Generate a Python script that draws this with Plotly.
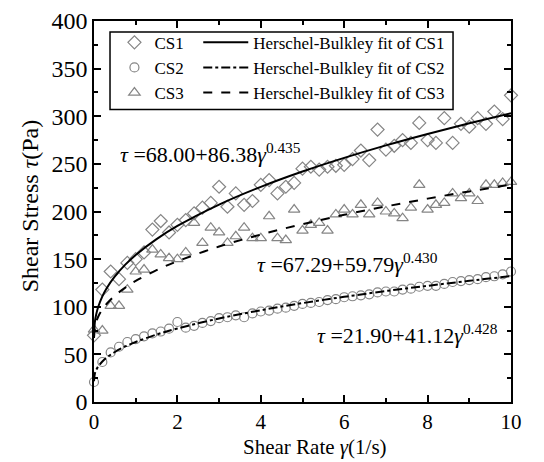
import plotly.graph_objects as go

# ---- data ----
shear_rate = [0.0, 0.2, 0.4, 0.6, 0.8, 1.0, 1.2, 1.4, 1.6, 1.8,
              2.0, 2.2, 2.4, 2.6, 2.8, 3.0, 3.2, 3.4, 3.6, 3.8,
              4.0, 4.2, 4.4, 4.6, 4.8, 5.0, 5.2, 5.4, 5.6, 5.8,
              6.0, 6.2, 6.4, 6.6, 6.8, 7.0, 7.2, 7.4, 7.6, 7.8,
              8.0, 8.2, 8.4, 8.6, 8.8, 9.0, 9.2, 9.4, 9.6, 9.8, 10.0]

cs1 = [70, 118, 137, 129, 146, 150, 157, 181, 190, 178,
       186, 191, 198, 204, 209, 226, 205, 219, 207, 211,
       228, 233, 219, 226, 230, 245, 247, 244, 247, 248,
       249, 255, 264, 254, 286, 265, 269, 275, 272, 293,
       275, 272, 298, 272, 292, 289, 298, 292, 305, 297, 322]

cs2 = [21, 42, 52, 58, 63, 66, 69, 72, 74, 77,
       84, 78, 80, 83, 85, 88, 89, 91, 89, 93,
       95, 96, 98, 99, 101, 103, 104, 105, 107, 108,
       110, 111, 112, 113, 115, 116, 116, 118, 119, 121,
       122, 122, 124, 126, 127, 128, 129, 131, 132, 134, 137]

cs3 = [76, 75, 101, 101, 118, 137, 139, 160, 155, 151,
       150, 157, 188, 167, 183, 178, 167, 174, 183, 172,
       172, 195, 172, 170, 202, 180, 186, 188, 180, 197,
       202, 197, 207, 197, 209, 200, 198, 193, 204, 228,
       202, 207, 209, 219, 214, 219, 211, 228, 228, 230, 231]

# Herschel-Bulkley fit curves
fit_rate = [0, 0.02, 0.05, 0.1, 0.2, 0.3, 0.5, 0.75, 1, 1.5, 2, 3, 4, 5, 6, 7, 8, 9, 10]
fit_cs1 = [68.0, 83.7, 91.5, 99.7, 110.9, 119.2, 131.9, 144.2, 154.4, 171.0,
           184.8, 207.3, 225.9, 242.0, 256.3, 269.4, 281.4, 292.6, 303.2]
fit_cs2 = [21.9, 29.6, 33.3, 37.2, 42.5, 46.5, 52.5, 58.3, 63.0, 70.8,
           77.2, 87.7, 96.3, 103.8, 110.4, 116.5, 122.0, 127.2, 132.1]
fit_cs3 = [67.3, 78.4, 83.8, 89.5, 97.2, 102.9, 111.7, 120.1, 127.1, 138.5,
           147.8, 163.2, 175.8, 186.7, 196.5, 205.3, 213.5, 221.1, 228.2]

series_names = ["CS1", "CS2", "CS3"]
fit_names = ["Herschel-Bulkley fit of CS1", "Herschel-Bulkley fit of CS2",
             "Herschel-Bulkley fit of CS3"]
eq_texts = ["<i>τ</i> =68.00+86.38<i>γ</i><sup>0.435</sup>",
            "<i>τ</i> =67.29+59.79<i>γ</i><sup>0.430</sup>",
            "<i>τ</i> =21.90+41.12<i>γ</i><sup>0.428</sup>"]
x_title = "Shear Rate <i>γ</i>(1/s)"
y_title = "Shear Stress <i>τ</i>(Pa)"

FONT = "Liberation Serif, Times New Roman, serif"
GRAY = "#858585"

fig = go.Figure()

symbols = ["diamond-open", "circle-open", "triangle-up-open"]
sizes = [10, 9, 10]
for name, ys, sym, sz in zip(series_names, [cs1, cs2, cs3], symbols, sizes):
    fig.add_trace(go.Scatter(
        x=shear_rate, y=ys, mode="markers", name=name,
        marker=dict(symbol=sym, size=sz, color=GRAY, line=dict(width=1.2, color=GRAY)),
        cliponaxis=False, legend="legend"))

dashes = ["solid", "dashdot", "dash"]
for name, ys, d in zip(fit_names, [fit_cs1, fit_cs2, fit_cs3], dashes):
    fig.add_trace(go.Scatter(
        x=fit_rate, y=ys, mode="lines", name=name, line_shape="spline",
        line=dict(color="black", width=2, dash=d), legend="legend2"))

# legend frame
fig.add_shape(type="rect", xref="paper", yref="paper",
              x0=0.0384, x1=0.861, y0=0.7676, y1=0.9713,
              line=dict(color="black", width=1.5), fillcolor="white", layer="below")

eq_pos = [(0.58, 261), (3.86, 146), (5.3, 71)]
for (ex, ey), t in zip(eq_pos, eq_texts):
    fig.add_annotation(x=ex, y=ey, xref="x", yref="y", text=t, showarrow=False,
                       xanchor="left", yanchor="middle",
                       font=dict(family=FONT, size=22, color="black"))

# axis titles
fig.add_annotation(x=0.53, y=-0.118, xref="paper", yref="paper", text=x_title,
                   showarrow=False, xanchor="center", yanchor="middle",
                   font=dict(family=FONT, size=21, color="black"))
fig.add_annotation(x=-0.153, y=0.514, xref="paper", yref="paper", text=y_title,
                   showarrow=False, xanchor="center", yanchor="middle", textangle=-90,
                   font=dict(family=FONT, size=24, color="black"))

axis_common = dict(showline=True, linecolor="black", linewidth=1.5, mirror="ticks",
                   ticks="inside", ticklen=7, tickwidth=1.5, tickcolor="black",
                   showgrid=False, zeroline=False, automargin=False)

fig.update_xaxes(range=[0, 10], dtick=2, tick0=0,
                 tickfont=dict(family=FONT, size=21, color="black"),
                 minor=dict(ticks="inside", ticklen=4, dtick=1, tickcolor="black", tickwidth=1.5),
                 **axis_common)
fig.update_yaxes(range=[0, 400], dtick=50, tick0=0,
                 tickfont=dict(family=FONT, size=24, color="black"),
                 minor=dict(ticks="inside", ticklen=4, dtick=25, tickcolor="black", tickwidth=1.5),
                 **axis_common)

fig.update_layout(
    width=544, height=462,
    margin=dict(l=86, r=41, t=13, b=68, autoexpand=False),
    paper_bgcolor="white", plot_bgcolor="white",
    font=dict(family=FONT, color="black"),
    showlegend=True,
    legend=dict(x=0.049, y=0.99, xanchor="left", yanchor="top", bgcolor="rgba(0,0,0,0)",
                borderwidth=0, font=dict(family=FONT, size=17, color="black"),
                tracegroupgap=0),
    legend2=dict(x=0.25, y=0.99, xanchor="left", yanchor="top", bgcolor="rgba(0,0,0,0)",
                 borderwidth=0, font=dict(family=FONT, size=17, color="black"),
                 tracegroupgap=0, itemwidth=45),
)

fig.write_html("out.html")
